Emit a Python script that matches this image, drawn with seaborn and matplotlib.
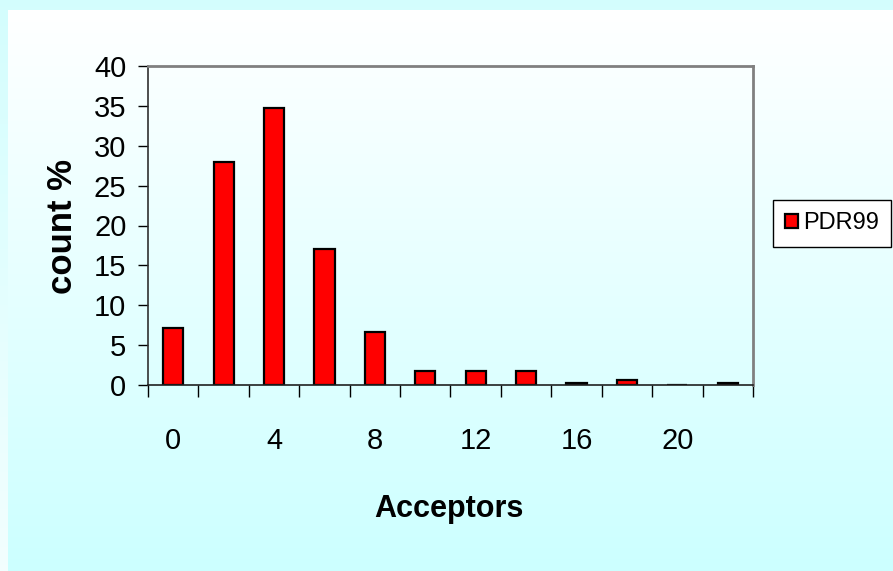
import numpy as np
import pandas as pd
import matplotlib
matplotlib.use("Agg")
import matplotlib.pyplot as plt
import seaborn as sns

# Distribution of hydrogen-bond acceptor counts (percent of entries)
acceptors = ["0", "2", "4", "6", "8", "10", "12", "14", "16", "18", "20", "22"]
count_pct = [7.2, 28.0, 34.7, 17.1, 6.6, 1.8, 1.8, 1.8, 0.3, 0.6, 0.0, 0.3]
series_name = "PDR99"
tick_labels = ["0", "", "4", "", "8", "", "12", "", "16", "", "20", ""]

sns.set_theme(style="white")
plt.rcParams["font.family"] = ["Liberation Sans", "DejaVu Sans"]
plt.rcParams["text.color"] = "black"
plt.rcParams["xtick.color"] = "black"
plt.rcParams["ytick.color"] = "black"
plt.rcParams["xtick.labelcolor"] = "black"
plt.rcParams["ytick.labelcolor"] = "black"

W, H = 893, 571
fig = plt.figure(figsize=(W / 100, H / 100), dpi=100)

# Slide background: outer band fades cyan -> pale, inner panel fades white -> cyan
bg = fig.add_axes([0, 0, 1, 1], zorder=-10)
bg.set_axis_off()
cyan = np.array([0.80, 1.0, 1.0])
pale = np.array([0.95, 1.0, 1.0])
white = np.array([1.0, 1.0, 1.0])
t = np.linspace(0, 1, 256)[:, None]
outer = (1 - t) * np.array([0.83, 0.995, 0.995]) + t * pale
inner = (1 - t) * white + t * cyan
bg.imshow(outer[:, None, :], extent=[0, W, 0, H], aspect="auto", origin="upper")
bg.imshow(inner[:, None, :], extent=[8, W, 0, H - 10], aspect="auto", origin="upper")
bg.set_xlim(0, W)
bg.set_ylim(0, H)

ax = fig.add_axes([148 / W, 1 - 385 / H, 605 / W, 319 / H])
ax.set_facecolor("none")

df = pd.DataFrame({"acceptors": acceptors, "pct": count_pct})
sns.barplot(data=df, x="acceptors", y="pct", order=acceptors, color="#FF0000",
            saturation=1, width=0.4, edgecolor="black", linewidth=1.6,
            label=series_name, ax=ax)

ax.set_xlim(-0.5, len(acceptors) - 0.5)
ax.set_ylim(0, 40)
ax.set_yticks(range(0, 41, 5))
ax.tick_params(axis="y", which="major", direction="out", length=7.5, width=1,
               color="black", labelcolor="black", labelsize=21, pad=8, left=True)

# Tick marks on category boundaries, labels centred under categories
ax.set_xticks(np.arange(-0.5, len(acceptors), 1.0))
ax.set_xticklabels([])
ax.set_xticks(np.arange(len(acceptors)), minor=True)
ax.set_xticklabels(tick_labels, minor=True)
ax.tick_params(axis="x", which="major", direction="out", length=8.5, width=1,
               color="black", bottom=True)
ax.tick_params(axis="x", which="minor", length=0, labelsize=21, pad=30,
               labelcolor="black")

for side in ("top", "right"):
    ax.spines[side].set_color("#808080")
    ax.spines[side].set_linewidth(2)
ax.spines["left"].set_color("#303030")
ax.spines["bottom"].set_color("#202020")
ax.spines["left"].set_linewidth(1.2)
ax.spines["bottom"].set_linewidth(1.2)

ax.set_xlabel("")
ax.set_ylabel("")
fig.text(449 / W, 1 - 509 / H, "Acceptors", ha="center", va="center",
         fontsize=22, fontweight="bold", color="black")
fig.text(62 / W, 1 - 226 / H, "count %", ha="center", va="center",
         rotation=90, fontsize=25, fontweight="bold", color="black")

leg = ax.legend(loc="upper left", bbox_to_anchor=(773 / W, 1 - 200 / H),
                bbox_transform=fig.transFigure, borderaxespad=0,
                fontsize=17, frameon=True, fancybox=False, framealpha=1,
                handlelength=0.55, handleheight=0.5, handletextpad=0.2,
                borderpad=0.52)
leg.get_frame().set_edgecolor("black")
leg.get_frame().set_linewidth(1)
leg.get_frame().set_facecolor("white")
for txt in leg.get_texts():
    txt.set_color("black")

fig.savefig("out.png", dpi=100)
